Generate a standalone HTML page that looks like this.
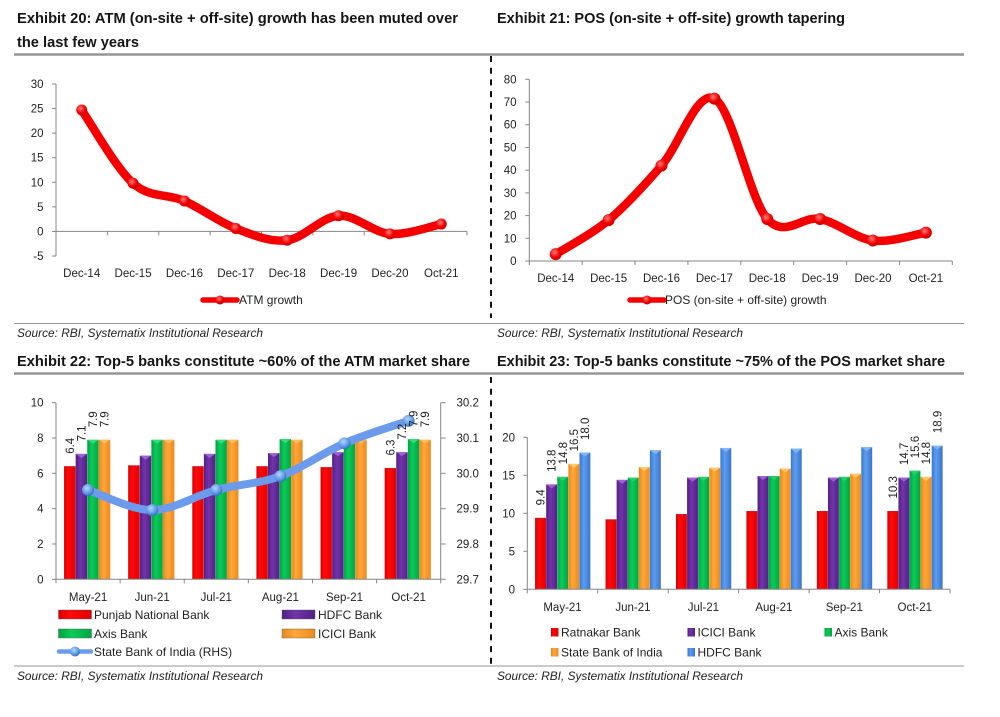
<!DOCTYPE html>
<html lang="en">
<head>
<meta charset="utf-8">
<title>Exhibits 20-23: ATM and POS growth and market share</title>
<style>
html,body{margin:0;padding:0;background:#fff;}
svg{display:block;font-family:"Liberation Sans",sans-serif;}
.title{font-size:15px;font-weight:bold;fill:#151515;}
.src{font-size:12px;font-style:italic;fill:#222;}
.tick{font-size:11.5px;fill:#222;}
.lbl{font-size:11.5px;fill:#222;}
.leg{font-size:12px;fill:#222;}
</style>
</head>
<body>
<svg id="page" xmlns="http://www.w3.org/2000/svg" width="1000" height="717" viewBox="0 0 1000 717">
<defs>
<radialGradient id="mk-red" cx="40%" cy="35%" r="70%"><stop offset="0" stop-color="#ff7a7a"/><stop offset="0.6" stop-color="#f00000"/><stop offset="1" stop-color="#c00000"/></radialGradient>
<radialGradient id="mk-blue" cx="40%" cy="35%" r="70%"><stop offset="0" stop-color="#b5d6fb"/><stop offset="0.6" stop-color="#5f9be6"/><stop offset="1" stop-color="#2f66b5"/></radialGradient>
<linearGradient id="b-red" x1="0" x2="1" y1="0" y2="0"><stop offset="0" stop-color="#d80000"/><stop offset="0.35" stop-color="#ff0a0a"/><stop offset="1" stop-color="#e00000"/></linearGradient>
<linearGradient id="b-purple" x1="0" x2="1" y1="0" y2="0"><stop offset="0" stop-color="#4f2084"/><stop offset="0.4" stop-color="#7333aa"/><stop offset="1" stop-color="#512286"/></linearGradient>
<linearGradient id="b-green" x1="0" x2="1" y1="0" y2="0"><stop offset="0" stop-color="#00a243"/><stop offset="0.4" stop-color="#0ccb58"/><stop offset="1" stop-color="#00a544"/></linearGradient>
<linearGradient id="b-orange" x1="0" x2="1" y1="0" y2="0"><stop offset="0" stop-color="#e8861c"/><stop offset="0.4" stop-color="#ffa838"/><stop offset="1" stop-color="#ea8a20"/></linearGradient>
<linearGradient id="b-blue" x1="0" x2="1" y1="0" y2="0"><stop offset="0" stop-color="#3a78d0"/><stop offset="0.4" stop-color="#5c9df0"/><stop offset="1" stop-color="#3a74c8"/></linearGradient>
</defs>

<rect x="0" y="0" width="1000" height="717" fill="#fff"/>

<text class="title" x="17" y="23" textLength="441" lengthAdjust="spacingAndGlyphs">Exhibit 20: ATM (on-site + off-site) growth has been muted over</text>
<text class="title" x="17" y="47" textLength="122" lengthAdjust="spacingAndGlyphs">the last few years</text>
<text class="title" x="497" y="23" textLength="348" lengthAdjust="spacingAndGlyphs">Exhibit 21: POS (on-site + off-site) growth tapering</text>
<text class="title" x="17" y="366" textLength="453" lengthAdjust="spacingAndGlyphs">Exhibit 22: Top-5 banks constitute ~60% of the ATM market share</text>
<text class="title" x="497" y="366" textLength="448" lengthAdjust="spacingAndGlyphs">Exhibit 23: Top-5 banks constitute ~75% of the POS market share</text>

<line x1="14" x2="964" y1="54.5" y2="54.5" stroke="#969696" stroke-width="2.5"/>
<line x1="14" x2="964" y1="323.5" y2="323.5" stroke="#969696" stroke-width="1"/>
<line x1="14" x2="964" y1="373.5" y2="373.5" stroke="#969696" stroke-width="2.5"/>
<line x1="14" x2="964" y1="666" y2="666" stroke="#969696" stroke-width="1"/>
<line x1="491" x2="491" y1="56" y2="318" stroke="#111" stroke-width="2" stroke-dasharray="6 5.7"/>
<line x1="491" x2="491" y1="377" y2="664" stroke="#111" stroke-width="2" stroke-dasharray="6 5.7"/>

<text class="src" x="17" y="337" textLength="246" lengthAdjust="spacingAndGlyphs">Source: RBI, Systematix Institutional Research</text>
<text class="src" x="497" y="337" textLength="246" lengthAdjust="spacingAndGlyphs">Source: RBI, Systematix Institutional Research</text>
<text class="src" x="17" y="680" textLength="246" lengthAdjust="spacingAndGlyphs">Source: RBI, Systematix Institutional Research</text>
<text class="src" x="497" y="680" textLength="246" lengthAdjust="spacingAndGlyphs">Source: RBI, Systematix Institutional Research</text>

<g id="chart20"></g>
<g id="chart21"></g>
<g id="chart22"></g>
<g id="chart23"></g>
</svg>

<script>
// Chart data
const yearCategories = ['Dec-14','Dec-15','Dec-16','Dec-17','Dec-18','Dec-19','Dec-20','Oct-21'];
const atmGrowth = [24.7, 9.8, 6.2, 0.6, -1.8, 3.2, -0.5, 1.5];
const atmTicks = [-5, 0, 5, 10, 15, 20, 25, 30];
const posGrowth = [3, 18, 42, 71.5, 18.5, 18.5, 9, 12.5];
const posTicks = [0, 10, 20, 30, 40, 50, 60, 70, 80];

const monthCategories = ['May-21','Jun-21','Jul-21','Aug-21','Sep-21','Oct-21'];
const labelledMonths = [0, 5];

const atmPnb = [6.4, 6.45, 6.4, 6.4, 6.35, 6.3];
const atmHdfc = [7.1, 7.0, 7.1, 7.15, 7.2, 7.2];
const atmAxis = [7.9, 7.9, 7.9, 7.94, 7.9, 7.94];
const atmIcici = [7.9, 7.9, 7.9, 7.9, 7.9, 7.9];
const atmSbi = [29.953, 29.896, 29.953, 29.992, 30.085, 30.149];
const atmShareTicks = [0, 2, 4, 6, 8, 10];
const atmRhsTicks = ['29.7', '29.8', '29.9', '30.0', '30.1', '30.2'];

const posRatnakar = [9.4, 9.2, 9.9, 10.3, 10.3, 10.3];
const posIcici = [13.8, 14.4, 14.7, 14.9, 14.7, 14.7];
const posAxis = [14.8, 14.7, 14.8, 14.9, 14.8, 15.6];
const posSbi = [16.5, 16.1, 16.0, 15.9, 15.2, 14.8];
const posHdfc = [18.0, 18.3, 18.6, 18.5, 18.7, 18.9];
const posShareTicks = [0, 5, 10, 15, 20];

const NS = 'http://www.w3.org/2000/svg';
const AXIS = '#868686';

function mk(parent, tag, attrs, txt) {
  const el = document.createElementNS(NS, tag);
  for (const k in attrs) el.setAttribute(k, attrs[k]);
  if (txt !== undefined) el.textContent = txt;
  parent.appendChild(el);
  return el;
}
function linearY(min, max, yBottom, yTop) {
  return v => yBottom - (v - min) / (max - min) * (yBottom - yTop);
}
function bandX(x0, x1, n) {
  const w = (x1 - x0) / n;
  return i => x0 + w * (i + 0.5);
}
function smoothPath(p) {
  let d = 'M' + p[0][0].toFixed(2) + ' ' + p[0][1].toFixed(2);
  for (let i = 0; i < p.length - 1; i++) {
    const a = p[Math.max(i - 1, 0)], b = p[i], c = p[i + 1], e = p[Math.min(i + 2, p.length - 1)];
    const c1x = b[0] + (c[0] - a[0]) / 6, c1y = b[1] + (c[1] - a[1]) / 6;
    const c2x = c[0] - (e[0] - b[0]) / 6, c2y = c[1] - (e[1] - b[1]) / 6;
    d += 'C' + [c1x, c1y, c2x, c2y, c[0], c[1]].map(n => n.toFixed(2)).join(' ');
  }
  return d;
}
function drawAxes(g, o) {
  const yAxis = mk(g, 'line', {x1:o.x0, x2:o.x0, y1:o.yTop, y2:o.yBottom, stroke:AXIS, 'stroke-width':1});
  
  
  const xAxis = mk(g, 'line', {x1:o.x0, x2:o.x1, y1:o.yZero, y2:o.yZero, stroke:AXIS, 'stroke-width':1});
  
  
  o.yTicks.forEach(t => {
    const y = o.y(t);
    const tick = mk(g, 'line', {x1:o.x0 - 4, x2:o.x0, y1:y, y2:y, stroke:AXIS, 'stroke-width':1});
    
    
    const lab = mk(g, 'text', {class:'tick', x:o.yLabelX, y:y + 4, 'text-anchor':'end'}, String(t));
    
    
  });
  const n = o.cats.length, w = (o.x1 - o.x0) / n;
  for (let i = 0; i <= n; i++) {
    const x = o.x0 + w * i;
    const tick = mk(g, 'line', {x1:x, x2:x, y1:o.yZero, y2:o.yZero + 4, stroke:AXIS, 'stroke-width':1});
    
    
  }
  o.cats.forEach((c, i) => {
    const lab = mk(g, 'text', {class:'tick', x:o.x(i), y:o.catY, 'text-anchor':'middle'}, c);
    
    
  });
}
function drawLine(g, pts, color, width, mkFill, r, name) {
  const line = mk(g, 'path', {d:smoothPath(pts), fill:'none', stroke:color, 'stroke-width':width, 'stroke-linecap':'round', 'stroke-linejoin':'round'});
  
  
  pts.forEach(p => {
    const c = mk(g, 'circle', {cx:p[0], cy:p[1], r:r, fill:mkFill});
    
    
  });
}
function drawLineLegend(g, x0, x1, y, color, width, mkFill, r, label, tx, ty) {
  const l = mk(g, 'line', {x1:x0, x2:x1, y1:y, y2:y, stroke:color, 'stroke-width':width, 'stroke-linecap':'round'});
  
  
  const c = mk(g, 'circle', {cx:(x0 + x1) / 2, cy:y, r:r, fill:mkFill});
  
  
  const t = mk(g, 'text', {class:'leg', x:tx, y:ty}, label);
  
  
}
function drawBars(g, o) {
  const nSeries = o.series.length;
  o.series.forEach((s, si) => {
    s.values.forEach((v, i) => {
      const bx = o.x(i) + o.groupShift + (si - nSeries / 2) * o.barW;
      const top = o.y(v), h = o.y(0) - top;
      const bar = mk(g, 'rect', {x:bx, y:top, width:o.barW - 0.2, height:h, fill:'url(#' + s.fill + ')'});
      
      
      const cap = mk(g, 'path', {d:'M' + bx + ' ' + top + 'h' + (o.barW - 0.2) + 'l' + (-(o.barW - 0.2) / 2) + ' 4z', fill:s.cap, opacity:0.85});
      
      
    });
  });
}
function drawBarLabels(g, o) {
  const nSeries = o.series.length;
  o.series.forEach((s, si) => {
    labelledMonths.forEach(i => {
      const cx = o.x(i) + o.groupShift + (si - nSeries / 2 + 0.5) * o.barW;
      const ly = o.y(s.values[i]) - 12.5, lx = cx + 4;
      const t = mk(g, 'text', {class:'lbl', x:lx, y:ly, transform:'rotate(-90 ' + lx + ' ' + ly + ')'}, s.values[i].toFixed(1));
      
      
    });
  });
}
function seriesPoints(values, x, y) {
  return values.map((v, i) => [x(i), y(v)]);
}

// Exhibit 20
(function () {
  const g = document.getElementById('chart20');
  const y = linearY(-5, 30, 256, 84), x = bandX(56, 467, yearCategories.length);
  drawAxes(g, {x0:56, x1:467, yTop:84, yBottom:256, yZero:y(0), y:y, x:x, yTicks:atmTicks, yLabelX:43.5, cats:yearCategories, catY:277});
  drawLine(g, seriesPoints(atmGrowth, x, y), '#f50000', 8.5, 'url(#mk-red)', 5.5, 'atm-growth');
  drawLineLegend(g, 203, 237, 300, '#f50000', 5.5, 'url(#mk-red)', 4.5, 'ATM growth', 239, 304);
})();

// Exhibit 21
(function () {
  const g = document.getElementById('chart21');
  const y = linearY(0, 80, 261, 79.3), x = bandX(529.3, 952.3, yearCategories.length);
  drawAxes(g, {x0:529.3, x1:952.3, yTop:79.3, yBottom:261, yZero:y(0), y:y, x:x, yTicks:posTicks, yLabelX:516.5, cats:yearCategories, catY:282});
  drawLine(g, seriesPoints(posGrowth, x, y), '#f50000', 8.5, 'url(#mk-red)', 6, 'pos-growth');
  drawLineLegend(g, 630, 664, 300, '#f50000', 5.5, 'url(#mk-red)', 4.5, 'POS (on-site + off-site) growth', 665, 304);
})();

// Exhibit 22
(function () {
  const g = document.getElementById('chart22');
  const yTop = 402.7, yBottom = 579.3, x0 = 56, x1 = 440.7;
  const y = linearY(0, 10, yBottom, yTop), x = bandX(x0, x1, monthCategories.length);
  const yR = linearY(29.7, 30.2, yBottom, yTop);
  const series = [
    {name:'punjab-national-bank', values:atmPnb, fill:'b-red', cap:'#e01010'},
    {name:'hdfc-bank', values:atmHdfc, fill:'b-purple', cap:'#a86ae0'},
    {name:'axis-bank', values:atmAxis, fill:'b-green', cap:'#40e080'},
    {name:'icici-bank', values:atmIcici, fill:'b-orange', cap:'#ffc060'}
  ];
  const o = {series:series, x:x, y:y, barW:11.6, groupShift:-0.8, cats:monthCategories};
  drawBars(g, o);
  drawAxes(g, {x0:x0, x1:x1, yTop:yTop, yBottom:yBottom, yZero:yBottom, y:y, x:x, yTicks:atmShareTicks, yLabelX:43.5, cats:monthCategories, catY:601});
  const rAxis = mk(g, 'line', {x1:x1, x2:x1, y1:yTop, y2:yBottom, stroke:AXIS, 'stroke-width':1});
  
  
  atmRhsTicks.forEach(t => {
    const ty = yR(parseFloat(t));
    const tick = mk(g, 'line', {x1:x1, x2:x1 + 5, y1:ty, y2:ty, stroke:AXIS, 'stroke-width':1});
    
    
    const lab = mk(g, 'text', {class:'tick', x:456.5, y:ty + 4}, t);
    
    
  });
  drawLine(g, seriesPoints(atmSbi, x, yR), '#6c9bec', 8, 'url(#mk-blue)', 6, 'state-bank-of-india');
  drawBarLabels(g, o);

  const legend = [
    {label:'Punjab National Bank', fill:'b-red', sx:58.5, tx:94, row:0},
    {label:'HDFC Bank', fill:'b-purple', sx:282, tx:318, row:0},
    {label:'Axis Bank', fill:'b-green', sx:58.5, tx:94, row:1},
    {label:'ICICI Bank', fill:'b-orange', sx:282, tx:318, row:1}
  ];
  legend.forEach(l => {
    const ly = 610 + l.row * 19;
    const sw = mk(g, 'rect', {x:l.sx, y:ly, width:33, height:9, fill:'url(#' + l.fill + ')', stroke:'#555', 'stroke-width':0.4});
    
    
    const t = mk(g, 'text', {class:'leg', x:l.tx, y:ly + 9}, l.label);
    
    
  });
  drawLineLegend(g, 59, 91, 651.5, '#6c9bec', 4.5, 'url(#mk-blue)', 5, 'State Bank of India (RHS)', 94, 656);
})();

// Exhibit 23
(function () {
  const g = document.getElementById('chart23');
  const yTop = 437.3, yBottom = 589.3, x0 = 527.3, x1 = 950;
  const y = linearY(0, 20, yBottom, yTop), x = bandX(x0, x1, monthCategories.length);
  const series = [
    {name:'ratnakar-bank', values:posRatnakar, fill:'b-red', cap:'#e01010'},
    {name:'icici-bank', values:posIcici, fill:'b-purple', cap:'#a86ae0'},
    {name:'axis-bank', values:posAxis, fill:'b-green', cap:'#30d070'},
    {name:'state-bank-of-india', values:posSbi, fill:'b-orange', cap:'#ffd070'},
    {name:'hdfc-bank', values:posHdfc, fill:'b-blue', cap:'#8abcf5'}
  ];
  const o = {series:series, x:x, y:y, barW:11.1, groupShift:0.3, cats:monthCategories};
  drawBars(g, o);
  drawAxes(g, {x0:x0, x1:x1, yTop:yTop, yBottom:yBottom, yZero:yBottom, y:y, x:x, yTicks:posShareTicks, yLabelX:515, cats:monthCategories, catY:611});
  drawBarLabels(g, o);

  const legend = [
    {label:'Ratnakar Bank', fill:'b-red', sx:551, tx:561, row:0},
    {label:'ICICI Bank', fill:'b-purple', sx:687.5, tx:697.5, row:0},
    {label:'Axis Bank', fill:'b-green', sx:824.5, tx:834.5, row:0},
    {label:'State Bank of India', fill:'b-orange', sx:551, tx:561, row:1},
    {label:'HDFC Bank', fill:'b-blue', sx:687.5, tx:697.5, row:1}
  ];
  legend.forEach(l => {
    const ly = 628 + l.row * 20;
    const sw = mk(g, 'rect', {x:l.sx, y:ly, width:7.5, height:8.5, fill:'url(#' + l.fill + ')'});
    
    
    const t = mk(g, 'text', {class:'leg', x:l.tx, y:ly + 8.5}, l.label);
    
    
  });
})();
</script>
</body>
</html>
